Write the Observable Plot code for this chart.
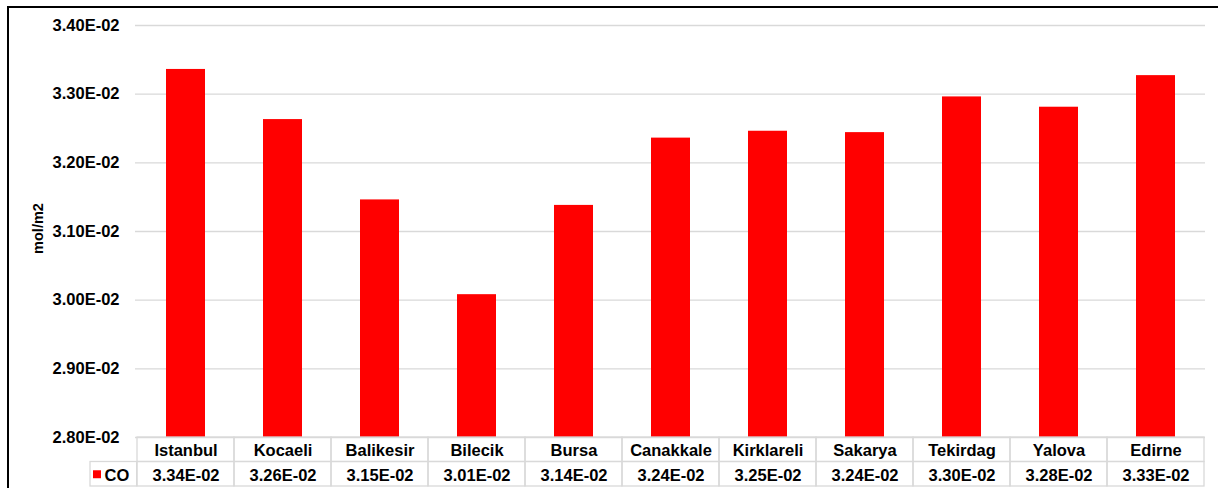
<!DOCTYPE html>
<html>
<head>
<meta charset="utf-8">
<script src="https://cdn.jsdelivr.net/npm/d3@7"></script>
<script src="https://cdn.jsdelivr.net/npm/@observablehq/plot@0.6"></script>
<style>
  html, body { margin: 0; padding: 0; background: #fff; }
  #wrap { position: relative; width: 1218px; height: 488px; overflow: hidden; background: #fff; }
  #wrap svg { position: absolute; left: 0; top: 0; }
  #border { position: absolute; left: 7px; top: 6px; width: 1240px; height: 520px;
            border: 2px solid #000; box-sizing: border-box; pointer-events: none; }
</style>
</head>
<body>
<div id="wrap"><div id="border"></div></div>
<script>
// Mean CO column density per province
const cities = ["Istanbul", "Kocaeli", "Balikesir", "Bilecik", "Bursa", "Canakkale",
                "Kirklareli", "Sakarya", "Tekirdag", "Yalova", "Edirne"];
const coValues = [0.03336, 0.03263, 0.03146, 0.03008, 0.03138, 0.03236,
                  0.03246, 0.03244, 0.03296, 0.03281, 0.03327];
const seriesName = "CO";
const unitLabel = "mol/m2";
const yTicks = [0.028, 0.029, 0.030, 0.031, 0.032, 0.033, 0.034];

const rows = cities.map((city, i) => ({city, value: coValues[i]}));

// Excel-style scientific notation: 3.34E-02
function sci(v) {
  const [m, e] = v.toExponential(2).split("e");
  const n = +e;
  return m + "E" + (n < 0 ? "-" : "+") + String(Math.abs(n)).padStart(2, "0");
}

const W = 1218, H = 488;
const mTop = 25, mBottom = 51, mLeft = 135, mRight = 13;
const frameH = H - mTop - mBottom;
const bandW = (W - mLeft - mRight) / cities.length;
const rowH = 24.5;
const gridColor = "#d9d9d9";
const font = "'Liberation Sans', Arial, sans-serif";

const chart = Plot.plot({
  width: W,
  height: H,
  marginTop: mTop,
  marginBottom: mBottom,
  marginLeft: mLeft,
  marginRight: mRight,
  style: {fontFamily: font, fontWeight: "bold", fontSize: "16.5px", color: "#000", background: "transparent", overflow: "visible"},
  x: {domain: cities, padding: 0, axis: null},
  y: {domain: [yTicks[0], yTicks[yTicks.length - 1]], axis: null},
  marks: [
    Plot.gridY(yTicks, {stroke: gridColor, strokeOpacity: 1, strokeWidth: 1.3}),
    Plot.axisY(yTicks, {tickSize: 0, tickPadding: 16, tickFormat: sci, label: null,
                        fontSize: 16.5, fontWeight: "bold", fill: "#000"}),
    Plot.barY(rows, {x: "city", y1: yTicks[0], y2: "value", fill: "#ff0000",
                     insetLeft: 29, insetRight: 29}),
    // data table: category row and value row
    Plot.cell(rows, {x: "city", insetTop: frameH, insetBottom: -rowH,
                     fill: "none", stroke: gridColor, strokeWidth: 1.3}),
    Plot.cell(rows, {x: "city", insetTop: frameH + rowH, insetBottom: -2 * rowH,
                     fill: "none", stroke: gridColor, strokeWidth: 1.3}),
    Plot.cell([cities[0]], {x: d => d, insetTop: frameH + rowH, insetBottom: -2 * rowH,
                            insetLeft: -47, insetRight: bandW,
                            fill: "none", stroke: gridColor, strokeWidth: 1.3}),
    Plot.text(rows, {x: "city", text: "city", frameAnchor: "bottom", dy: rowH / 2 + 1,
                     lineAnchor: "middle", fontSize: 16.5, fontWeight: "bold", fill: "#000"}),
    Plot.text(rows, {x: "city", text: d => sci(d.value), frameAnchor: "bottom", dy: rowH * 1.5 + 1,
                     lineAnchor: "middle", fontSize: 16.5, fontWeight: "bold", fill: "#000"}),
    // series key in the table's row header
    Plot.dot([seriesName], {frameAnchor: "bottom-left", dx: -38.5, dy: rowH * 1.5,
                            symbol: "square", r: 4.5, fill: "#ff0000", stroke: "none"}),
    Plot.text([seriesName], {text: d => d, frameAnchor: "bottom-left", dx: -31, dy: rowH * 1.5 + 1,
                             textAnchor: "start", lineAnchor: "middle",
                             fontSize: 16.5, fontWeight: "bold", fill: "#000"}),
    // y axis title
    Plot.text([unitLabel], {text: d => d, frameAnchor: "left", dx: -97, dy: -3, rotate: -90,
                            textAnchor: "middle", lineAnchor: "middle",
                            fontSize: "14.5px", fontWeight: "bold", fill: "#000"})
  ]
});

document.getElementById("wrap").insertBefore(chart, document.getElementById("border"));
</script>
</body>
</html>
